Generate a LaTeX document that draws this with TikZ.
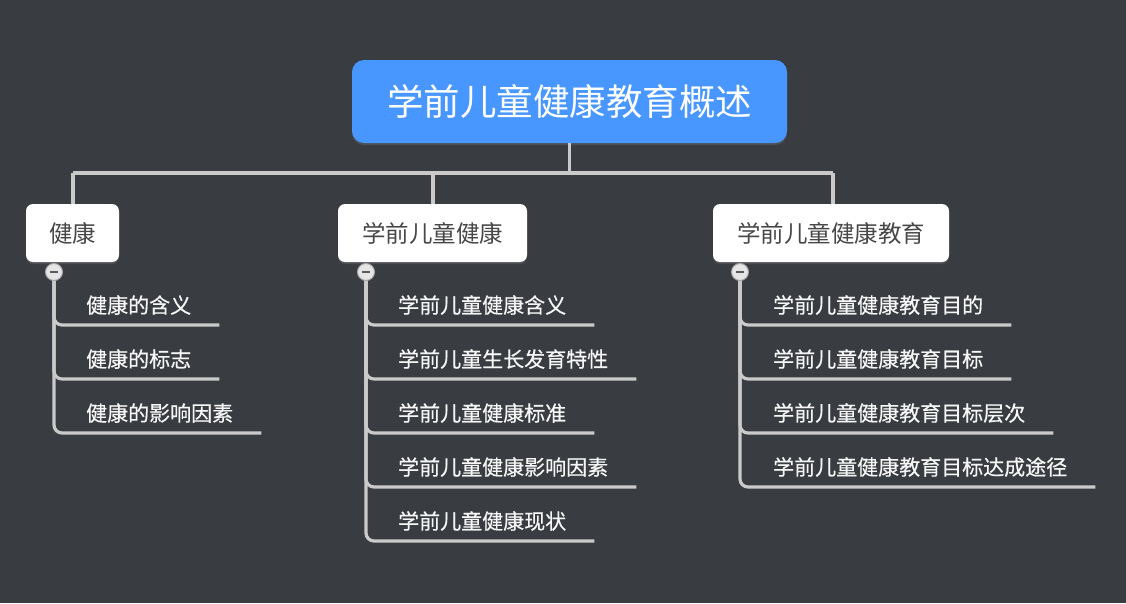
\documentclass[tikz,border=0pt]{standalone}
\usepackage{fontspec}
\setmainfont{Noto Sans CJK SC}
\newfontfamily\leaffont[FakeBold=0.5]{Noto Sans CJK SC}
\usetikzlibrary{calc,shadows}
\definecolor{bg}{HTML}{393C41}
\definecolor{rootblue}{HTML}{4896FF}
\definecolor{linkgray}{HTML}{CACACA}
\definecolor{topictext}{HTML}{474747}
\definecolor{childtext}{HTML}{F6F6F6}
\begin{document}
\begin{tikzpicture}[x=1pt,y=-1pt,
  root/.style={fill=rootblue, rounded corners=12pt, minimum width=435pt, minimum height=83pt,
    text=white, font=\fontsize{36.5}{40}\selectfont, inner sep=0pt,
    drop shadow={shadow xshift=0pt, shadow yshift=-2pt, opacity=0.3}},
  topic/.style={fill=white, rounded corners=7pt, minimum height=58pt,
    text=topictext, font=\fontsize{23.5}{26}\selectfont, inner sep=0pt,
    drop shadow={shadow xshift=0pt, shadow yshift=-2pt, opacity=0.3}},
  leaf/.style={anchor=west, text=childtext, font=\leaffont\fontsize{21}{23}\selectfont, inner sep=0pt},
  link/.style={draw=linkgray, line width=3.2pt},
  branch/.style={link, rounded corners=8pt},
  toggle/.style={circle, draw=gray!70, line width=1pt, fill=gray!20, minimum size=17pt, inner sep=0pt,
    path picture={\draw[line width=2.2pt, draw=black!65]
      ([xshift=4.5pt]path picture bounding box.west) -- ([xshift=-4.5pt]path picture bounding box.east);}}
]
\fill[bg] (0,0) rectangle (1126,603);
\useasboundingbox (0,0) rectangle (1126,603);

% root and main topics
\node[root] (root) at (569.5,101.5) {学前儿童健康教育概述};
\node[topic, minimum width=93pt] (t1) at (72.5,233) {健康};
\node[topic, minimum width=189pt] (t2) at (432.5,233) {学前儿童健康};
\node[topic, minimum width=236pt] (t3) at (831,233) {学前儿童健康教育};

\coordinate (hub) at (569.5,173);
\coordinate (d1) at (73,173);
\coordinate (d2) at (433,173);
\coordinate (d3) at (833,173);
\draw[link] (root.south) -- (hub);
\draw[link] (d1) -- (d3);
\draw[link] (d1) -- (t1.north -| d1);
\draw[link] (d2) -- (t2.north -| d2);
\draw[link] (d3) -- (t3.north -| d3);

% toggle positions
\coordinate (c1) at (54,272);
\coordinate (c2) at (366,272);
\coordinate (c3) at (740,272);

% branch 1
\node[leaf] (a1) at (86,305) {健康的含义};
\node[leaf] (a2) at (86,359) {健康的标志};
\node[leaf] (a3) at (86,413) {健康的影响因素};
\foreach \n in {a1,a2,a3}
  \draw[branch] (c1) |- ($(\n.east)+(28,20)$);

% branch 2
\node[leaf] (b1) at (398,305) {学前儿童健康含义};
\node[leaf] (b2) at (398,359) {学前儿童生长发育特性};
\node[leaf] (b3) at (398,413) {学前儿童健康标准};
\node[leaf] (b4) at (398,467) {学前儿童健康影响因素};
\node[leaf] (b5) at (398,521) {学前儿童健康现状};
\foreach \n in {b1,b2,b3,b4,b5}
  \draw[branch] (c2) |- ($(\n.east)+(28,20)$);

% branch 3
\node[leaf] (e1) at (773,305) {学前儿童健康教育目的};
\node[leaf] (e2) at (773,359) {学前儿童健康教育目标};
\node[leaf] (e3) at (773,413) {学前儿童健康教育目标层次};
\node[leaf] (e4) at (773,467) {学前儿童健康教育目标达成途径};
\foreach \n in {e1,e2,e3,e4}
  \draw[branch] (c3) |- ($(\n.east)+(28,20)$);

% toggles
\node[toggle] (k1) at (c1) {};
\node[toggle] (k2) at (c2) {};
\node[toggle] (k3) at (c3) {};
\end{tikzpicture}
\end{document}
